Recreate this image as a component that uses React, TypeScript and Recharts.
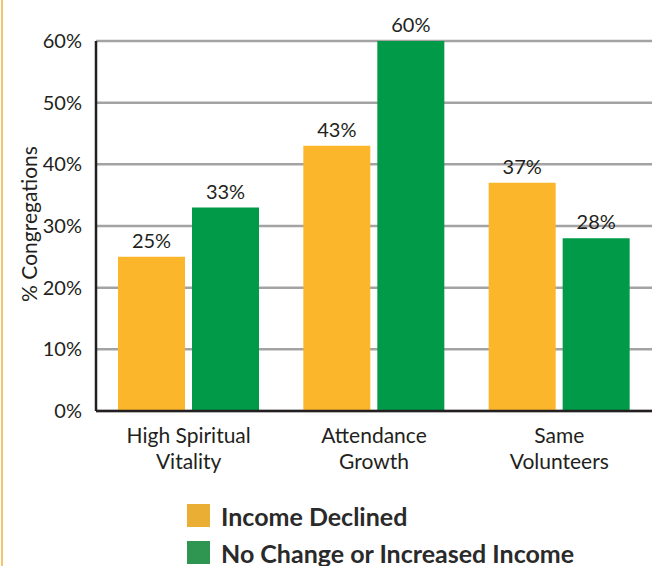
import { BarChart, Bar, XAxis, YAxis, CartesianGrid, LabelList } from 'recharts';

const categories = ['High Spiritual\nVitality', 'Attendance\nGrowth', 'Same\nVolunteers'];
const incomeDeclined = [25, 43, 37];
const noChangeOrIncreased = [33, 60, 28];
const yTicks = [0, 10, 20, 30, 40, 50, 60];
const edgeTicks = [1, 2, 3];
const legendItems = [
    { label: 'Income Declined', color: '#E9AE33' },
    { label: 'No Change or Increased Income', color: '#2E9650' },
];

const data = categories.map((name, i) => ({
    name,
    declined: incomeDeclined[i],
    increased: noChangeOrIncreased[i],
}));

const FONT = 'Lato, "Open Sans", sans-serif';
const INK = '#231f20';

const CategoryTick = ({ x, y, payload }: any) => {
    const lines = String(payload.value).split('\n');
    return (
        <text x={x} y={y} textAnchor="middle" fill={INK} fontFamily={FONT} fontSize={21}>
            {lines.map((l, i) => (
                <tspan key={i} x={x} dy={i === 0 ? 24 : 26}>
                    {l}
                </tspan>
            ))}
        </text>
    );
};

export default function App() {
    return (
        <div style={{ position: 'absolute', left: 0, top: 0, width: 662, height: 566, background: '#fff', overflow: 'hidden' }}>
            <div style={{ position: 'absolute', left: 1, top: 0, width: 2, height: 566, background: '#F5C46C' }} />
            <BarChart
                width={662}
                height={490}
                data={data}
                margin={{ top: 41, right: 10, left: 0, bottom: 0 }}
                barCategoryGap={22}
                barGap={7}
            >
                <CartesianGrid vertical={false} stroke="#a3a3a3" strokeWidth={2.5} />
                <XAxis
                    xAxisId="edge"
                    type="number"
                    domain={[0, 3]}
                    ticks={edgeTicks}
                    tick={false}
                    tickSize={-8}
                    tickLine={{ stroke: INK, strokeWidth: 2 }}
                    axisLine={false}
                    height={0}
                />
                <XAxis
                    xAxisId="cat"
                    dataKey="name"
                    tickLine={false}
                    axisLine={{ stroke: INK, strokeWidth: 2.5 }}
                    tick={<CategoryTick />}
                    height={79}
                    interval={0}
                />
                <YAxis
                    width={96}
                    domain={[0, 60]}
                    ticks={yTicks}
                    tickFormatter={(v) => `${v}%`}
                    tickLine={false}
                    axisLine={{ stroke: INK, strokeWidth: 2.5 }}
                    tick={{ fill: INK, fontFamily: FONT, fontSize: 20 }}
                    tickMargin={8}
                    label={{
                        content: () => (
                            <text
                                x={28}
                                y={224}
                                transform="rotate(-90 28 224)"
                                textAnchor="middle"
                                dominantBaseline="central"
                                fill={INK}
                                fontFamily={FONT}
                                fontSize={21}
                            >
                                % Congregations
                            </text>
                        ),
                    }}
                />
                <Bar xAxisId="cat" dataKey="declined" fill="#FBB62B" isAnimationActive={false}>
                    <LabelList dataKey="declined" position="top" offset={9} formatter={(v: any) => `${v}%`} fill={INK} fontFamily={FONT} fontSize={20} />
                </Bar>
                <Bar xAxisId="cat" dataKey="increased" fill="#009A49" isAnimationActive={false}>
                    <LabelList dataKey="increased" position="top" offset={9} formatter={(v: any) => `${v}%`} fill={INK} fontFamily={FONT} fontSize={20} />
                </Bar>
            </BarChart>
            <div
                style={{
                    position: 'absolute',
                    left: 187,
                    top: 497,
                    fontFamily: FONT,
                    fontWeight: 700,
                    fontSize: 25,
                    color: '#2a2a2a',
                    whiteSpace: 'nowrap',
                }}
            >
                {legendItems.map((item) => (
                    <div key={item.label} style={{ display: 'flex', alignItems: 'center', height: 37 }}>
                        <span style={{ width: 23, height: 23, background: item.color, marginRight: 11, display: 'inline-block' }} />
                        <span>{item.label}</span>
                    </div>
                ))}
            </div>
        </div>
    );
}
